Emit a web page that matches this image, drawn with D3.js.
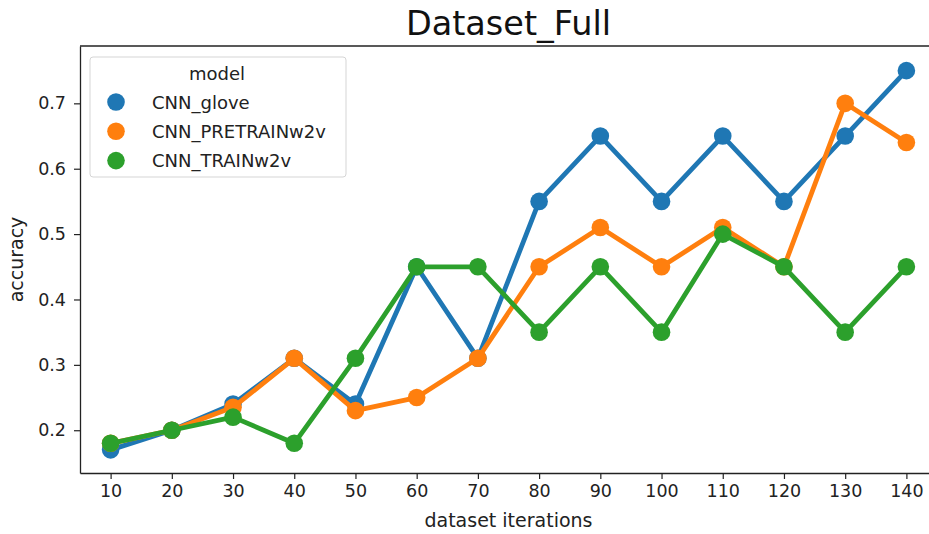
<!DOCTYPE html>
<html>
<head>
<meta charset="utf-8">
<script src="https://cdn.jsdelivr.net/npm/d3@7"></script>
<style>
  body { margin: 0; background: #fff; overflow: hidden; }
  svg { font-family: "DejaVu Sans", sans-serif; display: block; }
  .tick text { fill: #222; font-size: 17.5px; }
  .tick line { stroke: #222; stroke-width: 1.2; }
  .domain { stroke: #222; stroke-width: 1.3; }
</style>
</head>
<body>
<svg id="chart" width="929" height="534"></svg>
<script>
const iterations = [10, 20, 30, 40, 50, 60, 70, 80, 90, 100, 110, 120, 130, 140];
const gloveAcc = [0.17, 0.20, 0.24, 0.31, 0.24, 0.45, 0.31, 0.55, 0.65, 0.55, 0.65, 0.55, 0.65, 0.75];
const pretrainAcc = [0.18, 0.20, 0.235, 0.31, 0.23, 0.25, 0.31, 0.45, 0.51, 0.45, 0.51, 0.45, 0.70, 0.64];
const trainAcc = [0.18, 0.20, 0.22, 0.18, 0.31, 0.45, 0.45, 0.35, 0.45, 0.35, 0.50, 0.45, 0.35, 0.45];
const yTicks = [0.2, 0.3, 0.4, 0.5, 0.6, 0.7];

const series = [
  { name: "CNN_glove", values: gloveAcc, color: "#1f77b4" },
  { name: "CNN_PRETRAINw2v", values: pretrainAcc, color: "#ff7f0e" },
  { name: "CNN_TRAINw2v", values: trainAcc, color: "#2ca02c" }
];

const svg = d3.select("#chart");
const margin = { top: 46, left: 80 };
const innerWidth = 857;   // right spine sits just past the cropped edge
const innerHeight = 427;

const g = svg.append("g")
  .attr("transform", `translate(${margin.left},${margin.top})`);

// categorical x like seaborn pointplot: index -0.5 .. n-0.5
const x = d3.scalePoint()
  .domain(iterations)
  .range([0, innerWidth])
  .padding(0.5);

const y = d3.scaleLinear()
  .domain([0.1346, 0.7877])
  .range([innerHeight, 0]);

// axes
g.append("g")
  .attr("transform", `translate(0,${innerHeight})`)
  .call(d3.axisBottom(x).tickSize(6).tickPadding(6).tickSizeOuter(0))
  .attr("font-family", "DejaVu Sans, sans-serif");

g.append("g")
  .call(d3.axisLeft(y).tickValues(yTicks).tickFormat(d3.format(".1f")).tickSize(6).tickPadding(8).tickSizeOuter(0))
  .attr("font-family", "DejaVu Sans, sans-serif");

// top and right spines
g.append("line")
  .attr("x1", 0).attr("x2", innerWidth)
  .attr("y1", 0).attr("y2", 0)
  .attr("stroke", "#222").attr("stroke-width", 1.3);
g.append("line")
  .attr("x1", innerWidth).attr("x2", innerWidth)
  .attr("y1", 0).attr("y2", innerHeight)
  .attr("stroke", "#222").attr("stroke-width", 1.3);

// lines + points
const line = d3.line()
  .x((d, i) => x(iterations[i]))
  .y(d => y(d));

series.forEach(s => {
  g.append("path")
    .datum(s.values)
    .attr("fill", "none")
    .attr("stroke", s.color)
    .attr("stroke-width", 4.8)
    .attr("stroke-linejoin", "round")
    .attr("d", line);

  g.selectAll(null)
    .data(s.values)
    .enter()
    .append("circle")
    .attr("cx", (d, i) => x(iterations[i]))
    .attr("cy", d => y(d))
    .attr("r", 8.8)
    .attr("fill", s.color);
});

// title and axis labels
svg.append("text")
  .attr("x", margin.left + innerWidth / 2)
  .attr("y", 35)
  .attr("text-anchor", "middle")
  .style("font-size", "33.5px")
  .attr("fill", "#111")
  .text("Dataset_Full");

svg.append("text")
  .attr("x", margin.left + innerWidth / 2)
  .attr("y", 527)
  .attr("text-anchor", "middle")
  .style("font-size", "19px")
  .attr("fill", "#222")
  .text("dataset iterations");

svg.append("text")
  .attr("transform", `translate(23,${margin.top + innerHeight / 2}) rotate(-90)`)
  .attr("text-anchor", "middle")
  .style("font-size", "19px")
  .attr("fill", "#222")
  .text("accuracy");

// legend
const legend = svg.append("g").attr("transform", "translate(90,57)");

legend.append("rect")
  .attr("width", 256)
  .attr("height", 120)
  .attr("rx", 3)
  .attr("fill", "#fff")
  .attr("fill-opacity", 0.8)
  .attr("stroke", "#d5d5d5");

legend.append("text")
  .attr("x", 127)
  .attr("y", 23)
  .attr("text-anchor", "middle")
  .style("font-size", "18px")
  .attr("fill", "#222")
  .text("model");

legend.selectAll("circle")
  .data(series)
  .enter()
  .append("circle")
  .attr("cx", 26)
  .attr("cy", (d, i) => 45 + i * 29.3)
  .attr("r", 8.8)
  .attr("fill", d => d.color);

legend.selectAll("text.item")
  .data(series)
  .enter()
  .append("text")
  .attr("class", "item")
  .attr("x", 62)
  .attr("y", (d, i) => 45 + i * 29.3 + 6.5)
  .style("font-size", "18px")
  .attr("fill", "#222")
  .text(d => d.name);
</script>
</body>
</html>
